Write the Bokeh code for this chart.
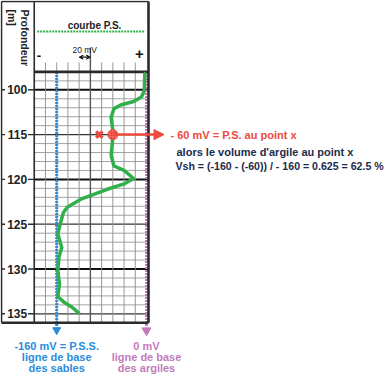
import math
from bokeh.plotting import figure
from bokeh.models import Range1d, Arrow, NormalHead, VeeHead
from bokeh.core.properties import value
from bokeh.embed import file_html
from bokeh.resources import INLINE

# ---------------- data ----------------
depth_m = [108.2, 110.1, 110.8, 111.3, 111.7, 112.1, 113.1, 114.5, 115.0, 116.0,
           117.3, 118.5, 119.0, 119.9, 120.5, 121.1, 121.8, 122.2, 123.1, 123.7,
           124.8, 126.1, 127.6, 128.7, 130.2, 131.7, 133.1, 133.7, 134.3, 134.9]
ps_mV = [-3, -4, -9, -23, -46, -58, -63, -60, -60, -61,
         -63, -58, -40, -23, -40, -70, -100, -117, -141, -148,
         -153, -158, -151, -156, -158, -155, -158, -147, -132, -121]
depth_ticks = [110, 115, 120, 125, 130, 135]
depth_tick_labels = ["100", "115", "120", "125", "130", "135"]
grid_mV = [-180, -160, -140, -120, -100, -80, -60, -40, -20]
grid_depth = list(range(109, 136))
sand_mV = -160
shale_mV = 0
point_depth = 115
point_mV = -60
cross_mV = -84
scale_step_mV = 20
track_left_mV = -200
depth_top, depth_bottom = 108, 136

# ---------------- layout helpers (pixel -> data) ----------------
W, H = 390, 376
PX0, KX = 146.0, 0.5613     # px of 0 mV, px per mV
PY0, KY = 71.4, 8.96        # px of depth_top, px per metre


def X(px):
    return (px - PX0) / KX


def Y(py):
    return depth_top + (py - PY0) / KY


FONT = value("Liberation Sans")
GREEN = "#2fb04a"
BLUE = "#2a8cdc"
PINK = "#c47bbd"
RED = "#ec4a3c"
NAVY = "#1d2b4d"
DARK = "#2b2b2b"

p = figure(width=W, height=H, x_range=Range1d(X(0), X(W)), y_range=Range1d(Y(H), Y(0)),
           output_backend="svg", toolbar_location=None, min_border=0,
           x_axis_location=None, y_axis_location=None)
p.grid.visible = False
p.outline_line_color = None
p.background_fill_color = "white"
p.border_fill_color = "white"

xr = X(148.0)

# horizontal grid
minor = [d for d in grid_depth if d % 5 != 0]
mid = [d for d in grid_depth if d % 10 == 5]
major = [d for d in grid_depth if d % 10 == 0]
p.segment(x0=[track_left_mV] * len(minor), x1=[xr] * len(minor), y0=minor, y1=minor,
          line_color="#8c8c8c", line_width=0.8)
p.segment(x0=[track_left_mV] * len(mid), x1=[xr] * len(mid), y0=mid, y1=mid,
          line_color="#333333", line_width=1.2)
p.segment(x0=[track_left_mV] * len(major), x1=[xr] * len(major), y0=major, y1=major,
          line_color="#111111", line_width=2)

# vertical grid (incl. header ticks)
vminor = [m for m in grid_mV if m != -100]
p.segment(x0=vminor, x1=vminor, y0=[Y(62)] * len(vminor), y1=[depth_bottom] * len(vminor),
          line_color="#8c8c8c", line_width=0.9)
p.segment(x0=[-100], x1=[-100], y0=[Y(47)], y1=[depth_bottom], line_color="#555555", line_width=1.4)

# baselines
p.line(x=[sand_mV, sand_mV], y=[depth_top, Y(327)], line_color=BLUE, line_width=3, line_dash="2 1")
p.scatter(x=[sand_mV], y=[Y(329.5)], marker="inverted_triangle", size=8, fill_color=BLUE,
          line_color=BLUE)
p.line(x=[shale_mV, shale_mV], y=[depth_top, Y(327)], line_color=PINK, line_width=3, line_dash="2 1")
p.scatter(x=[shale_mV], y=[Y(330)], marker="inverted_triangle", size=9, fill_color=PINK,
          line_color=PINK)

# frame
xl = X(1.0)
yt = Y(1.0)
p.line(x=[xl, xl], y=[yt, depth_bottom], line_color=DARK, line_width=1.6)
p.line(x=[track_left_mV, track_left_mV], y=[yt, depth_bottom], line_color=DARK, line_width=1.6)
p.line(x=[xl, xr], y=[yt, yt], line_color=DARK, line_width=1.6)
p.line(x=[track_left_mV, xr], y=[depth_top, depth_top], line_color=DARK, line_width=2.6)
p.line(x=[xr, xr], y=[yt, depth_bottom], line_color=DARK, line_width=2.6)
p.line(x=[xl, xr], y=[depth_bottom, depth_bottom], line_color=DARK, line_width=2.4)

# depth ticks
n = len(depth_ticks)
p.segment(x0=[xl] * n, x1=[X(4.5)] * n, y0=depth_ticks, y1=depth_ticks, line_color=DARK, line_width=1.4)
p.segment(x0=[X(27.5)] * n, x1=[track_left_mV] * n, y0=depth_ticks, y1=depth_ticks,
          line_color=DARK, line_width=1.4)
p.text(x=[X(26.7)] * n, y=depth_ticks, text=depth_tick_labels, text_font=FONT,
       text_font_size="12px", text_font_style="bold", text_align="right",
       text_baseline="middle", text_color="#222222")

# header
p.text(x=[X(24)], y=[Y(9)], text=["Profondeur"], angle=-math.pi / 2, text_font=FONT,
       text_font_size="10.5px", text_font_style="bold", text_align="left",
       text_baseline="middle", text_color="#222222")
p.text(x=[X(11.5)], y=[Y(9)], text=["[m]"], angle=-math.pi / 2, text_font=FONT,
       text_font_size="10.5px", text_font_style="bold", text_align="left",
       text_baseline="middle", text_color="#222222")
p.text(x=[X(94)], y=[Y(25)], text=["courbe P.S."], text_font=FONT, text_font_size="10px",
       text_font_style="bold", text_align="center", text_baseline="middle", text_color="#222222")
p.line(x=[X(36.7), X(144.3)], y=[Y(31), Y(31)], line_color=GREEN, line_width=2, line_dash="2 1")
p.text(x=[X(38.3)], y=[Y(55)], text=["-"], text_font=FONT, text_font_size="13px",
       text_font_style="bold", text_align="center", text_baseline="middle", text_color="#111111")
p.text(x=[X(139)], y=[Y(53.5)], text=["+"], text_font=FONT, text_font_size="15px",
       text_font_style="bold", text_align="center", text_baseline="middle", text_color="#111111")
p.text(x=[-100 - scale_step_mV / 2], y=[Y(49.5)], text=["20 mV"], text_font=FONT,
       text_font_size="8.5px", text_align="center", text_baseline="middle", text_color="#222222")
p.add_layout(Arrow(x_start=-100 - scale_step_mV, x_end=-100, y_start=Y(56.7), y_end=Y(56.7),
                   line_color="#111111", line_width=1.2,
                   start=VeeHead(size=4, line_color="#111111", fill_color="#111111", line_width=1),
                   end=VeeHead(size=4, line_color="#111111", fill_color="#111111", line_width=1)))

# P.S. curve
p.line(x=ps_mV, y=depth_m, line_color=GREEN, line_width=3.5, line_join="round", line_cap="round")

# point x annotation
p.add_layout(Arrow(x_start=point_mV, x_end=X(163.5), y_start=point_depth, y_end=point_depth,
                   line_color=RED, line_width=2.5,
                   end=NormalHead(size=10, line_color=RED, fill_color=RED, line_width=1)))
p.scatter(x=[cross_mV], y=[point_depth], marker="x", size=9, line_color=RED, line_width=3.2)
p.scatter(x=[point_mV], y=[point_depth], marker="circle", size=10, fill_color=RED,
          line_color=RED, hatch_pattern=".", hatch_color="#f7a8a0", hatch_scale=3)

p.text(x=[X(170)], y=[Y(134.6)], text=["- 60 mV = P.S. au point x"], text_font=FONT,
       text_font_size="11px", text_font_style="bold", text_align="left", text_baseline="middle",
       text_color=RED)
p.text(x=[X(176)], y=[Y(151)], text=["alors le volume d'argile au point x"], text_font=FONT,
       text_font_size="11px", text_font_style="bold", text_align="left", text_baseline="middle",
       text_color=NAVY)
p.text(x=[X(175)], y=[Y(165)], text=["Vsh = (-160 - (-60)) / - 160 = 0.625 = 62.5 %"],
       text_font=FONT, text_font_size="10.6px", text_font_style="bold", text_align="left",
       text_baseline="middle", text_color=NAVY)

# bottom captions
sand_lines = ["-160 mV = P.S.S.", "ligne de base", "des sables"]
shale_lines = ["0 mV", "ligne de base", "des argiles"]
cap_y = [Y(345.3), Y(356.3), Y(367.2)]
p.text(x=[sand_mV] * 3, y=cap_y, text=sand_lines, text_font=FONT, text_font_size="11px",
       text_font_style="bold", text_align="center", text_baseline="middle", text_color=BLUE)
p.text(x=[shale_mV] * 3, y=cap_y, text=shale_lines, text_font=FONT, text_font_size="11px",
       text_font_style="bold", text_align="center", text_baseline="middle", text_color=PINK)

open("out.html", "w").write(file_html(p, INLINE))
